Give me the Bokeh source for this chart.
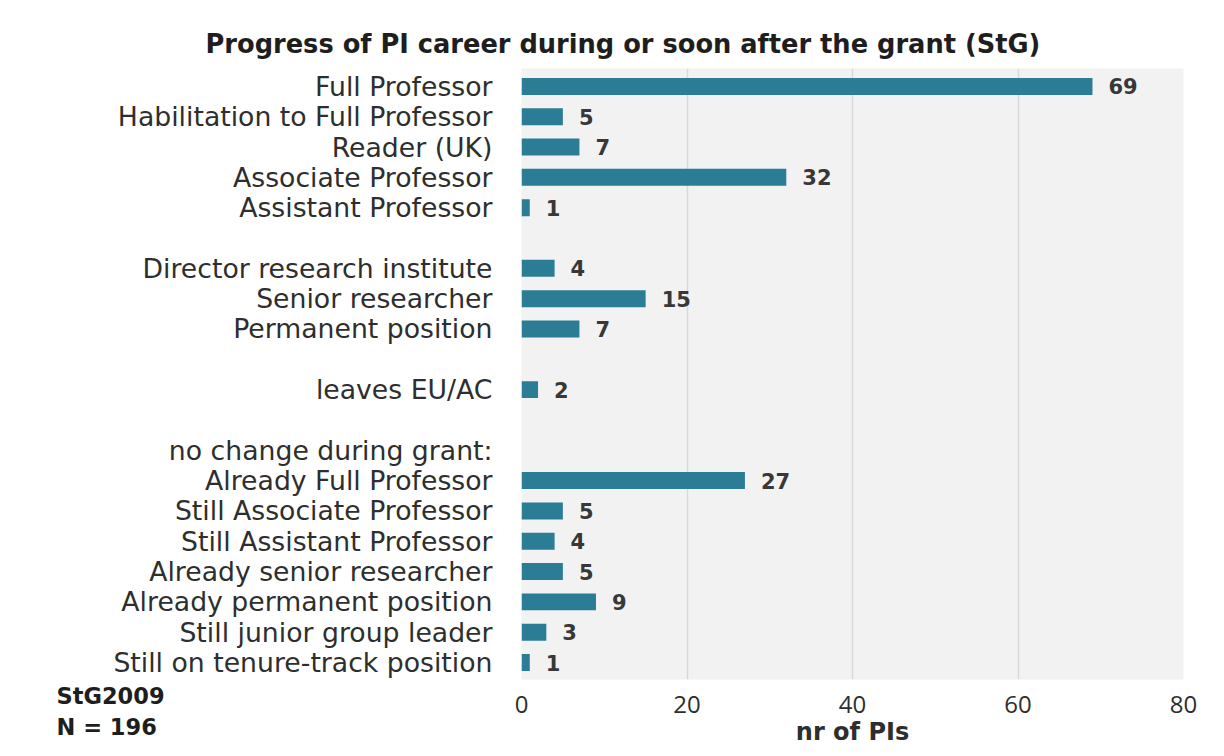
from bokeh.plotting import figure
from bokeh.models import ColumnDataSource, Range1d, FixedTicker, Label, Title
from bokeh.core.properties import value
from bokeh.embed import file_html
from bokeh.resources import INLINE

# ---- data ----
categories = [
    "Full Professor", "Habilitation to Full Professor", "Reader (UK)",
    "Associate Professor", "Assistant Professor", "",
    "Director research institute", "Senior researcher", "Permanent position", "",
    "leaves EU/AC", "",
    "no change during grant:", "Already Full Professor", "Still Associate Professor",
    "Still Assistant Professor", "Already senior researcher", "Already permanent position",
    "Still junior group leader", "Still on tenure-track position",
]
counts = [69, 5, 7, 32, 1, None, 4, 15, 7, None, 2, None, None, 27, 5, 4, 5, 9, 3, 1]
x_ticks = [0, 20, 40, 60, 80]
title_text = "Progress of PI career during or soon after the grant (StG)"
x_label = "nr of PIs"
note_lines = ["StG2009", "N = 196"]

# ---- derived ----
rows = [i for i, c in enumerate(counts) if c is not None]
src = ColumnDataSource(dict(
    y=rows,
    v=[counts[i] for i in rows],
    t=[str(counts[i]) for i in rows],
))

FONT = "DejaVu Sans"
TXT = "#2e2e2e"
BAR = "#2b7c95"

p = figure(width=1216, height=748, output_backend="svg", toolbar_location=None,
           x_range=Range1d(0, 80), y_range=Range1d(19.56, -0.59),
           min_border_left=521, min_border_right=33, min_border_top=68,
           min_border_bottom=68)
p.background_fill_color = "#f2f2f2"
p.border_fill_color = "white"
p.outline_line_color = None

p.hbar(y="y", right="v", left=0, height=0.56, source=src,
       fill_color=BAR, line_color=None)
p.text(x="v", y="y", text="t", source=src, x_offset=16,
       text_baseline="middle", text_align="left",
       text_font=value(FONT), text_font_size="21px", text_color="#383838",
       text_font_style="bold")

# x axis
p.xaxis.ticker = FixedTicker(ticks=x_ticks)
p.xaxis.axis_line_color = None
p.xaxis.major_tick_line_color = None
p.xaxis.major_tick_out = 0
p.xaxis.major_tick_in = 0
p.xaxis.minor_tick_line_color = None
p.xaxis.major_label_text_font = "Open Sans"
p.xaxis.major_label_text_font_size = "24px"
p.xaxis.major_label_text_color = TXT
p.xaxis.major_label_standoff = 16
p.xaxis.axis_label = x_label
p.xaxis.axis_label_text_font = FONT
p.xaxis.axis_label_text_font_size = "24px"
p.xaxis.axis_label_text_font_style = "bold"
p.xaxis.axis_label_text_color = TXT
p.xaxis.axis_label_standoff = 2

# y axis
ylab_rows = [i for i, c in enumerate(categories) if c]
p.yaxis.ticker = FixedTicker(ticks=ylab_rows)
p.yaxis.major_label_overrides = {i: categories[i] for i in ylab_rows}
p.yaxis.axis_line_color = None
p.yaxis.major_tick_line_color = None
p.yaxis.major_tick_out = 0
p.yaxis.major_tick_in = 0
p.yaxis.minor_tick_line_color = None
p.yaxis.major_label_text_font = FONT
p.yaxis.major_label_text_font_size = "26.7px"
p.yaxis.major_label_text_color = TXT
p.yaxis.major_label_standoff = 29

p.ygrid.grid_line_color = None
p.xgrid.ticker = FixedTicker(ticks=x_ticks[1:])
p.xgrid.grid_line_color = "#d9d9d9"
p.xgrid.grid_line_width = 1.5

p.add_layout(Title(text=title_text, align="left", offset=-316, standoff=19,
                   text_font=FONT, text_font_size="25.7px", text_font_style="bold",
                   text_color="#1e1e1e"), "above")
# note placed in the left side panel so it is not clipped to the frame
p.add_layout(Label(x=54, y=-3, x_units="screen", y_units="screen",
                   text="\n".join(note_lines), text_align="left", text_baseline="top",
                   text_line_height=1.23,
                   text_font=FONT, text_font_size="22.5px", text_font_style="bold",
                   text_color="#1e1e1e"), "left")

open("out.html", "w").write(file_html(p, INLINE))
